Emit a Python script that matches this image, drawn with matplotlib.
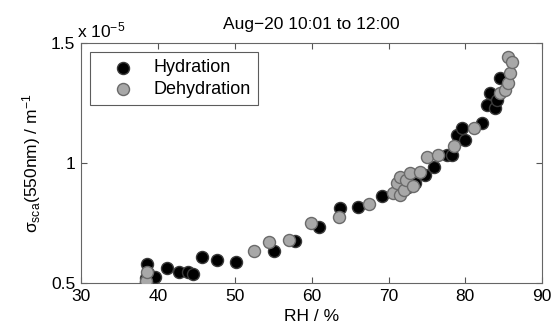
import matplotlib
matplotlib.use("Agg")
import matplotlib.pyplot as plt

plt.rcParams['font.family'] = ['Liberation Sans', 'DejaVu Sans']
plt.rcParams['mathtext.fontset'] = 'custom'
plt.rcParams['mathtext.rm'] = 'Liberation Sans'
plt.rcParams['mathtext.it'] = 'Liberation Sans:italic'

# scattering coefficient in units of 1e-5 m^-1
hyd_rh = [38.5, 38.6, 38.4, 38.7, 39.6, 41.2, 42.8, 43.9, 44.6, 45.8, 47.7, 50.1,
          55.1, 57.9, 61.0, 63.7, 66.0, 69.1, 72.5, 73.0, 73.5, 74.8, 75.9, 77.6,
          78.2, 78.9, 79.5, 80.0, 82.2, 82.8, 83.2, 83.9, 84.1, 84.5]
hyd_sca = [0.52, 0.578, 0.505, 0.54, 0.524, 0.564, 0.547, 0.547, 0.538, 0.607, 0.596, 0.589,
           0.635, 0.674, 0.732, 0.811, 0.818, 0.864, 0.90, 0.93, 0.915, 0.95, 0.982, 1.033,
           1.033, 1.117, 1.145, 1.096, 1.165, 1.242, 1.29, 1.228, 1.262, 1.353]

dehyd_rh = [38.4, 38.6, 52.5, 54.4, 57.0, 59.9, 63.5, 67.4, 70.6, 71.1, 71.5, 71.5,
            72.0, 72.3, 72.8, 73.2, 74.1, 75.0, 76.5, 78.5, 81.1, 84.5, 85.2, 85.6,
            85.8, 85.6, 86.1]
dehyd_sca = [0.51, 0.545, 0.635, 0.672, 0.679, 0.751, 0.776, 0.829, 0.874, 0.915, 0.867, 0.943,
             0.888, 0.93, 0.957, 0.905, 0.964, 1.026, 1.033, 1.071, 1.145, 1.29, 1.304, 1.332,
             1.376, 1.44, 1.42]

fig = plt.figure(figsize=(5.55, 3.31), dpi=100)
ax = fig.add_axes([0.146, 0.145, 0.831, 0.725])

ax.scatter(hyd_rh, hyd_sca, s=75, c='black', edgecolors='#3a3a3a', linewidths=1.0,
           label='Hydration', zorder=3)
ax.scatter(dehyd_rh, dehyd_sca, s=75, c='#a8a8a8', edgecolors='#6a6a6a', linewidths=1.0,
           label='Dehydration', zorder=3)

ax.set_xlim(30, 90)
ax.set_ylim(0.5, 1.5)
ax.set_xticks([30, 40, 50, 60, 70, 80, 90])
ax.set_yticks([0.5, 1, 1.5])
ax.set_yticklabels(['0.5', '1', '1.5'])
ax.tick_params(direction='in', top=True, right=True, length=4, labelsize=12.5,
               color='#555555', pad=4)
for sp in ax.spines.values():
    sp.set_color('#666666')

ax.set_xlabel('RH / %', fontsize=12.5, labelpad=4)
ax.set_ylabel('\u03c3$_{\\rm sca}$(550nm) / m$^{-1}$', fontsize=12.5, labelpad=6)
ax.set_title('Aug\u221220 10:01 to 12:00', fontsize=12.5, pad=10)
ax.text(-0.008, 1.012, r'x 10$^{-5}$', transform=ax.transAxes, fontsize=12.5,
        ha='left', va='bottom')

leg = ax.legend(loc='upper left', fontsize=13, frameon=True, fancybox=False,
                borderaxespad=0.5, handletextpad=0.3, borderpad=0.4,
                labelspacing=0.25, handlelength=2.8)
leg.get_frame().set_edgecolor('#333333')
leg.get_frame().set_linewidth(0.8)

fig.savefig('out.png', dpi=100)
